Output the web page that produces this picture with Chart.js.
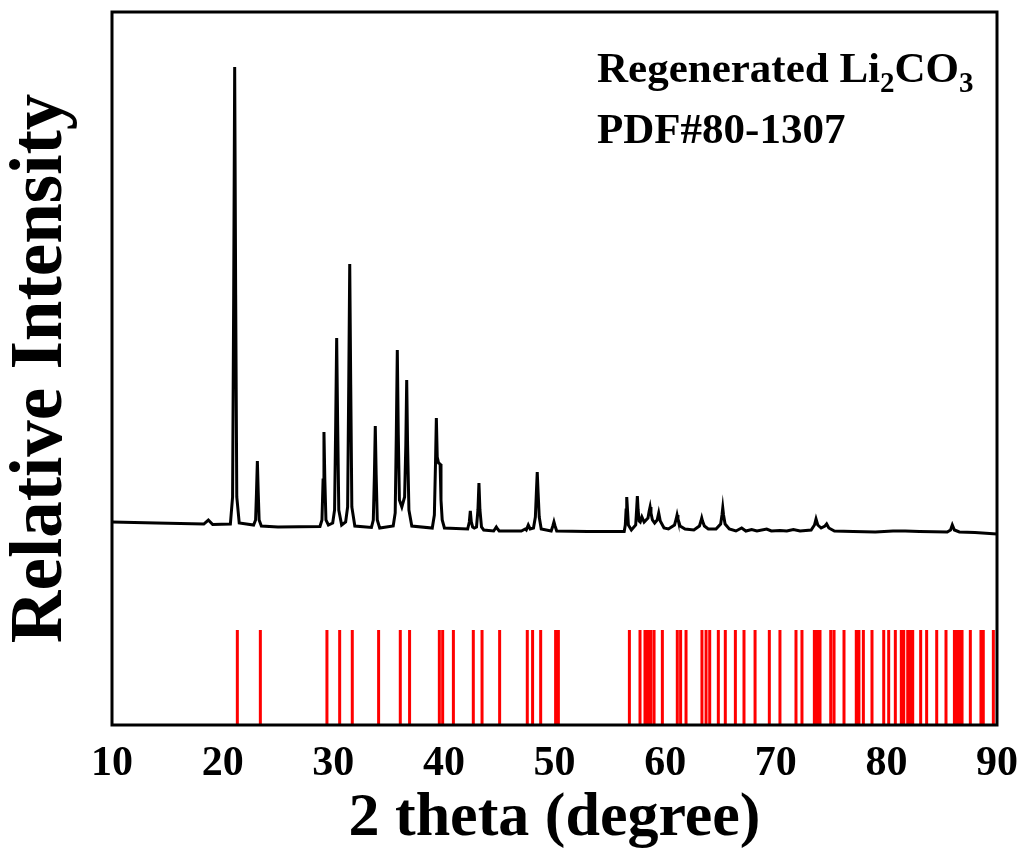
<!DOCTYPE html>
<html><head><meta charset="utf-8">
<script src="https://cdn.jsdelivr.net/npm/chart.js@4/dist/chart.umd.min.js"></script>
<style>html,body{margin:0;padding:0;background:#fff;}</style>
</head><body>
<canvas id="c" width="1022" height="850" style="display:block"></canvas>
<script>
// ---- data ----
const twoTheta = [10,14,18.3,18.71,19.1,
  20.7,20.9,21.0,21.09,21.18,21.28,21.5,
  22.8,22.98,23.06,23.14,23.22,23.3,23.5,
  25,
  28.8,28.98,29.08,29.16,29.24,29.34,29.56,
  29.95,30.12,30.22,30.31,30.4,30.5,30.76,
  31.12,31.3,31.4,31.49,31.58,31.68,31.95,
  33.45,33.62,33.72,33.8,33.88,33.98,34.2,
  35.42,35.6,35.7,35.79,35.88,35.98,36.2,
  36.45,36.56,36.64,36.72,36.84,37.1,
  38.95,39.14,39.24,39.32,39.4,39.52,39.66,39.74,39.85,40.05,
  42.15,42.3,42.39,42.48,42.6,42.75,
  42.95,43.08,43.17,43.26,43.4,43.6,
  44.5,44.62,44.74,44.86,45.0,47.0,47.35,47.45,47.63,47.8,
  48.1,48.27,48.36,48.44,48.52,48.62,48.8,
  49.7,49.85,49.95,50.05,50.2,53,56.3,
  56.4,56.47,56.53,56.6,56.68,56.95,
  57.34,57.42,57.49,57.56,57.65,57.75,57.9,58.1,
  58.45,58.56,58.64,58.72,58.85,59.05,
  59.28,59.42,59.56,59.9,60.3,
  60.85,61.0,61.08,61.16,61.35,61.8,62.6,
  63.1,63.24,63.31,63.38,63.55,63.9,64.6,
  65.02,65.14,65.21,65.28,65.42,65.8,
  66.4,66.92,67.3,67.82,68.3,69.18,69.6,70.38,71.0,71.59,72.2,
  73.2,73.5,73.64,73.8,74.1,74.45,74.6,74.8,75.3,
  77.0,79.0,80.6,81.7,83.0,85.5,85.8,85.96,86.15,86.6,88,90];
const intensity = [203,202,201,205,200.5,
  201,228,430,658,430,228,202,
  200,205,232,264,232,205,199,
  198,
  198.5,205,245,293,245,205,200,
  202,215,300,387,300,215,200,
  203,218,340,461,340,218,199,
  197.5,205,250,299,250,205,197,
  199,212,290,375,290,225,218,
  228,280,345,280,215,199,
  197,210,260,307,268,262,261,225,205,197,
  196,203,214,203,198,197,
  198,215,242,215,198,195,
  194,196,198,196,194,194,196,195,200,196,
  197,208,232,253,232,208,196,
  194,199,203,199,194,193.5,193.5,
  200,215,228,215,200,195,
  200,215,229,215,204,203,208,203,
  207,214,218,212,205,202,
  205,212,204,197,196,
  200,206,210,206,199,196,195,
  199,204,207,204,199,196,196,
  201,210,217,210,201,196,
  194,197,194,195.5,194,196,194,194.5,194,195.5,194,
  195,200,206,200,197,199,201,197,194,
  193.5,193,194,194,193.5,193,195,200,195,193,192.5,191];
const refPositions = [21.33,23.41,29.43,30.58,31.72,34.10,36.06,36.90,39.59,39.89,40.86,42.66,43.45,45.04,47.54,48.02,48.75,50.10,50.35,56.77,57.73,58.18,58.43,58.70,59.00,59.75,61.10,61.40,61.89,63.33,63.70,64.03,64.81,65.44,66.35,67.13,68.13,69.42,70.38,71.83,72.37,73.49,73.76,74.00,74.97,75.27,76.17,77.28,77.52,77.92,78.70,79.76,80.21,80.81,81.35,81.57,81.93,82.17,82.38,83.10,83.64,84.55,85.39,86.15,86.38,86.63,86.84,87.59,88.55,88.76,89.67];
const refHeight = 95;
const xTicks = [10,20,30,40,50,60,70,80,90];
const xTitle = '2 theta (degree)';
const yTitle = 'Relative Intensity';
const noteSample = ['Regenerated Li', '2', 'CO', '3'];
const noteCard = 'PDF#80-1307';

// ---- build datasets ----
const curve = twoTheta.map((x, i) => ({x: x, y: intensity[i]}));
const refs = [];
refPositions.forEach(p => { refs.push({x: p, y: 0}, {x: p, y: refHeight}, {x: p, y: null}); });

const SERIF = '"Liberation Serif", "Times New Roman", serif';

const framePlugin = {
  id: 'frame',
  afterDraw(chart) {
    const {ctx, chartArea: a} = chart;
    ctx.save();
    ctx.strokeStyle = '#000';
    ctx.lineWidth = 3;
    ctx.strokeRect(a.left, a.top, a.right - a.left, a.bottom - a.top);
    ctx.fillStyle = '#000';
    ctx.textBaseline = 'alphabetic';
    ctx.textAlign = 'left';
    const big = 'bold 43px ' + SERIF, small = 'bold 29px ' + SERIF;
    let x = 597; const y1 = 82;
    ctx.font = big; ctx.fillText(noteSample[0], x, y1); x += ctx.measureText(noteSample[0]).width;
    ctx.font = small; ctx.fillText(noteSample[1], x, y1 + 10); x += ctx.measureText(noteSample[1]).width;
    ctx.font = big; ctx.fillText(noteSample[2], x, y1); x += ctx.measureText(noteSample[2]).width;
    ctx.font = small; ctx.fillText(noteSample[3], x, y1 + 10);
    ctx.font = big; ctx.fillText(noteCard, 597, 143);
    ctx.restore();
  }
};

new Chart(document.getElementById('c'), {
  type: 'line',
  data: {
    datasets: [
      {data: curve, borderColor: '#000', borderWidth: 3, pointRadius: 0, tension: 0, fill: false, order: 1},
      {data: refs, borderColor: '#ff0000', borderWidth: 3, pointRadius: 0, tension: 0, spanGaps: false, fill: false, order: 2}
    ]
  },
  options: {
    responsive: false,
    animation: false,
    devicePixelRatio: 1,
    layout: {padding: {top: 12, right: 25, left: 0, bottom: 0}},
    plugins: {legend: {display: false}, tooltip: {enabled: false}},
    scales: {
      x: {
        type: 'linear', min: 10, max: 90,
        afterBuildTicks(scale) { scale.ticks = xTicks.map(v => ({value: v})); },
        afterFit(scale) { scale.height = 125; scale.paddingLeft = 0; scale.paddingRight = 0; },
        grid: {display: false, drawTicks: false},
        border: {display: false},
        ticks: {color: '#000', padding: 14, maxRotation: 0, font: {family: SERIF, size: 42, weight: 'bold'}},
        title: {display: true, text: xTitle, color: '#000', padding: {top: 0, bottom: 0},
                font: {family: SERIF, size: 62, weight: 'bold', lineHeight: 1}}
      },
      y: {
        type: 'linear', min: 0, max: 713,
        afterFit(scale) { scale.width = 112; scale.paddingTop = 0; scale.paddingBottom = 0; },
        grid: {display: false, drawTicks: false},
        border: {display: false},
        ticks: {display: false},
        title: {display: true, text: yTitle, color: '#000', padding: {top: 0, bottom: 0},
                font: {family: SERIF, size: 73, weight: 'bold', lineHeight: 1.15}}
      }
    }
  },
  plugins: [framePlugin]
});
</script>
</body></html>
